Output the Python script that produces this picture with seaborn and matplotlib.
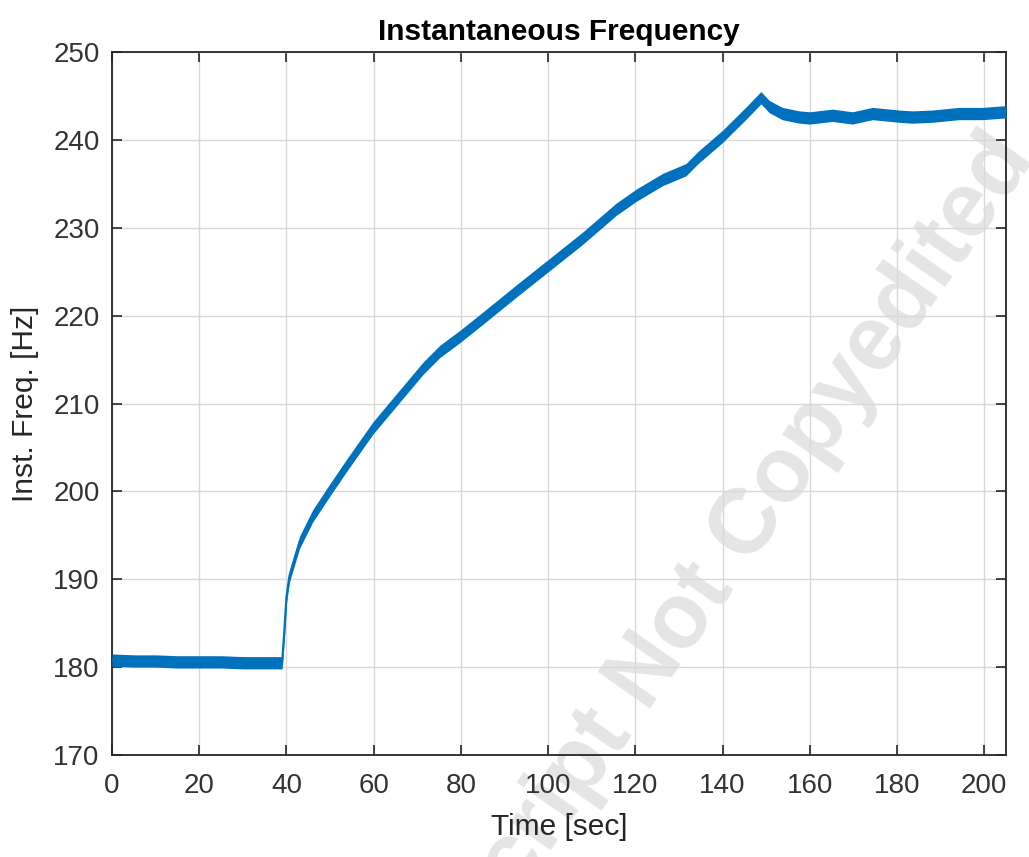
import numpy as np
import pandas as pd
import seaborn as sns
from matplotlib import pyplot as plt

# values (centre of the noisy trace)
time_sec = [0, 5, 10, 15, 20, 25, 30, 35, 39.0, 39.5, 40.0, 40.7, 43.0, 46.0,
            50.0, 53.7, 59.8, 65.2, 71.3, 75.1, 79.7, 85.0, 92.7, 100.3, 107.9,
            115.6, 120.2, 126.3, 131.6, 134.4, 140.0, 145.3, 148.8, 150.7,
            153.7, 157.6, 160.0, 165.2, 169.8, 174.4, 180.5, 183.5, 188.1,
            194.2, 199.6, 205.0]
freq_hz = [180.8, 180.7, 180.7, 180.6, 180.6, 180.6, 180.5, 180.5, 180.5,
           184.0, 188.0, 190.4, 194.2, 197.2, 200.2, 202.9, 207.2, 210.4,
           214.0, 215.9, 217.6, 219.7, 222.8, 225.8, 228.8, 232.1, 233.7,
           235.5, 236.6, 238.0, 240.4, 243.0, 244.8, 243.8, 243.0, 242.6,
           242.5, 242.8, 242.5, 243.0, 242.7, 242.6, 242.7, 243.0, 243.0,
           243.2]
noise_halfwidth = 0.7  # vertical spread of the measured trace, Hz

x_ticks = [0, 20, 40, 60, 80, 100, 120, 140, 160, 180, 200]
y_ticks = [170, 180, 190, 200, 210, 220, 230, 240, 250]

df = pd.DataFrame({'Time': time_sec, 'Freq': freq_hz})

sns.set_theme(style="ticks")
plt.rcParams['font.family'] = ['Liberation Sans', 'DejaVu Sans']

matlab_blue = '#0072BD'
dark = '#262626'

fig = plt.figure(figsize=(10.29, 8.57), dpi=100)
ax = fig.add_axes([0.1089, 0.119, 0.8687, 0.8203])
ax.patch.set_visible(False)

ax.fill_between(df['Time'], df['Freq'] - noise_halfwidth, df['Freq'] + noise_halfwidth,
                color=matlab_blue, lw=0, zorder=3)
sns.lineplot(x='Time', y='Freq', data=df, ax=ax, color=matlab_blue, lw=1.6, zorder=4)

ax.set_xlim(0, 205)
ax.set_ylim(170, 250)
ax.set_xticks(x_ticks)
ax.set_yticks(y_ticks)
ax.grid(True, color='#d9d9d9', lw=1.0)
ax.set_axisbelow(True)
for s in ax.spines.values():
    s.set_visible(True)
    s.set_color(dark)
    s.set_linewidth(1.3)
ax.tick_params(direction='in', length=7, width=1.2, colors=dark, labelsize=20,
               top=True, right=True, pad=9)
ax.tick_params(axis='x', pad=13)
for lab in ax.get_xticklabels() + ax.get_yticklabels():
    lab.set_color('#333333')

ax.set_title('Instantaneous Frequency', fontsize=21.5, fontweight='bold', color='black', pad=9)
ax.set_xlabel('Time [sec]', fontsize=21.5, color=dark, labelpad=10)
ax.set_ylabel('Inst. Freq. [Hz]', fontsize=21.5, color=dark, labelpad=10)

# faint watermark behind the plot
fig.text(0.655, 0.262, 'Manuscript Not Copyedited', fontsize=66, fontweight='bold',
         color='#e5e5e5', rotation=55, ha='center', va='center', zorder=-1)

fig.savefig('out.png', dpi=100)
